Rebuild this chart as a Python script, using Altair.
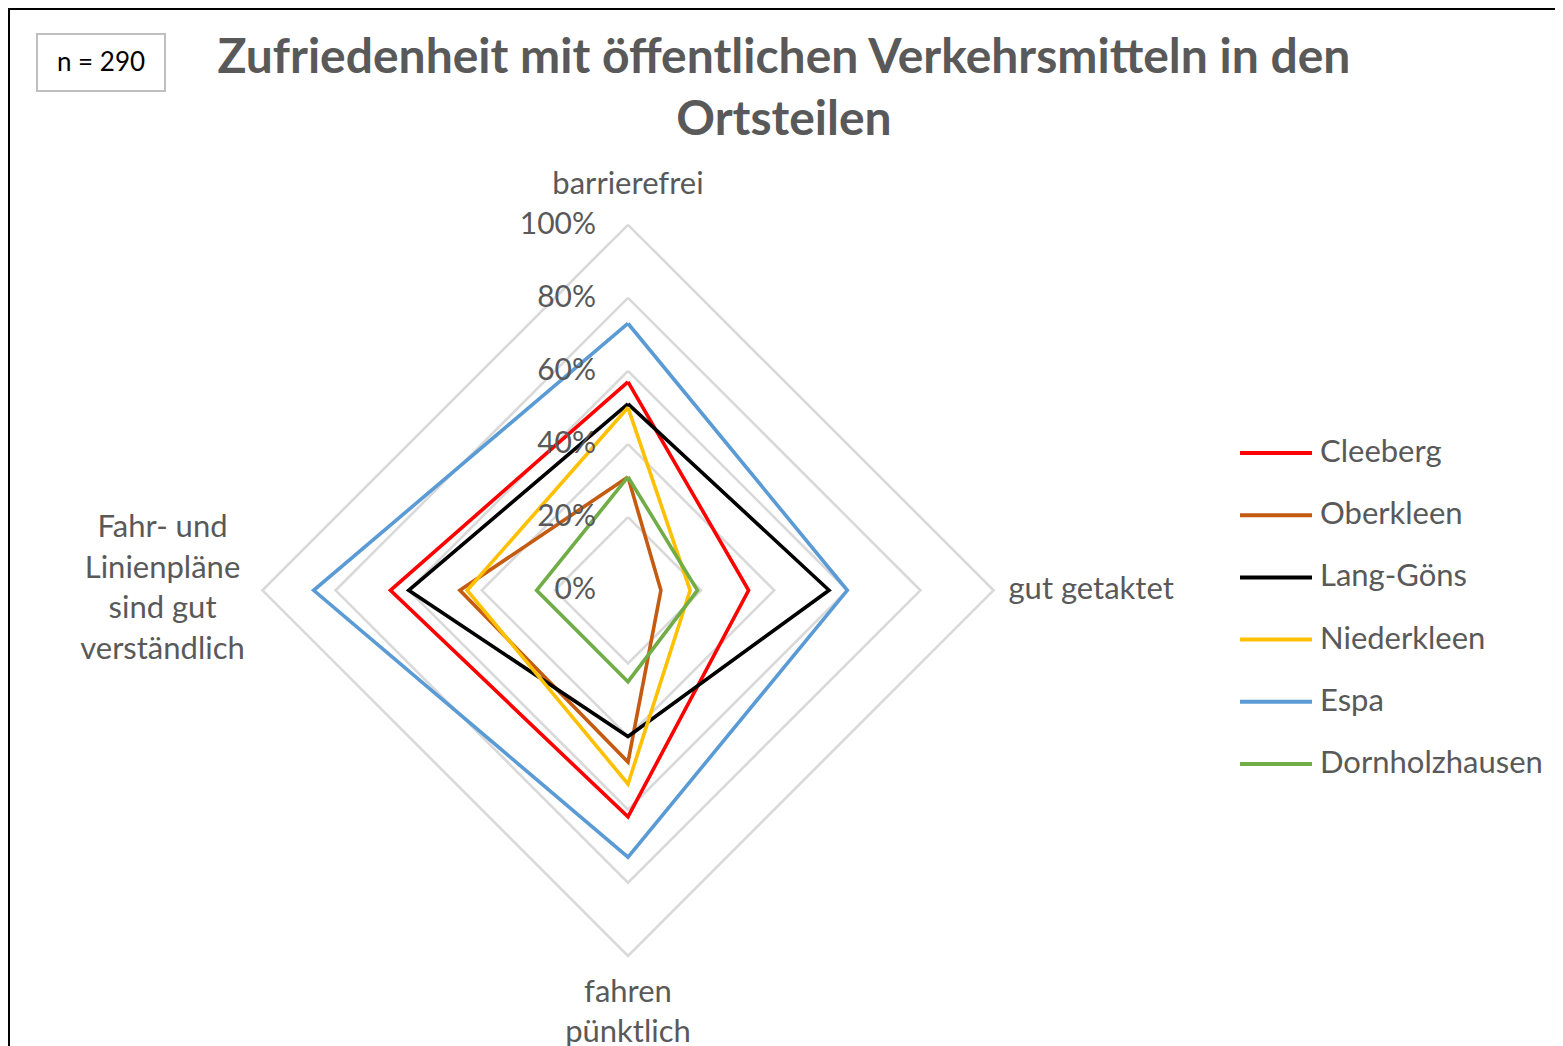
import altair as alt
import pandas as pd

# ---------------- data ----------------
CATEGORIES = ["barrierefrei", "gut getaktet", "fahren pünktlich",
              "Fahr- und Linienpläne sind gut verständlich"]
CATEGORY_LABELS = ["barrierefrei", "gut getaktet", "fahren\npünktlich",
                   "Fahr- und\nLinienpläne\nsind gut\nverständlich"]
SERIES = ["Cleeberg", "Oberkleen", "Lang-Göns", "Niederkleen", "Espa", "Dornholzhausen"]
CLEEBERG = [57, 33, 62, 65]
OBERKLEEN = [31, 9, 47, 46]
LANG_GOENS = [51, 55, 40, 60]
NIEDERKLEEN = [50, 17, 53, 44]
ESPA = [73, 60, 73, 86]
DORNHOLZHAUSEN = [31, 19, 25, 25]
SERIES_VALUES = [CLEEBERG, OBERKLEEN, LANG_GOENS, NIEDERKLEEN, ESPA, DORNHOLZHAUSEN]
COLORS = ["#FF0000", "#C55A11", "#000000", "#FFC000", "#5B9BD5", "#70AD47"]
GRID_LEVELS = [20, 40, 60, 80, 100]
TICK_LEVELS = [0, 20, 40, 60, 80, 100]
TICK_LABELS = ["0%", "20%", "40%", "60%", "80%", "100%"]
TITLE = "Zufriedenheit mit öffentlichen Verkehrsmitteln in den\nOrtsteilen"
N_LABEL = "n = 290"

# ---------------- layout ----------------
W, H = 1547, 1038
CX, CY = 620, 582.3      # centre of the radar in chart pixels
PX = 3.655               # pixels per percent
XS = alt.Scale(domain=[-CX / PX, (W - CX) / PX], nice=False, zero=False)
YS = alt.Scale(domain=[-(H - CY) / PX, CY / PX], nice=False, zero=False)
FONT = "Lato"
GREY = "#595959"

n_cat = len(CATEGORIES)

# long table of series polygons (closed)
rows = []
for s, vals in zip(SERIES, SERIES_VALUES):
    for k in range(n_cat + 1):
        rows.append({"series": s, "k": k % n_cat, "ord": k, "v": vals[k % n_cat]})
df_series = pd.DataFrame(rows)

grid_rows = []
for lv in GRID_LEVELS:
    for k in range(n_cat + 1):
        grid_rows.append({"level": lv, "k": k % n_cat, "ord": k, "v": lv})
df_grid = pd.DataFrame(grid_rows)

df_ticks = pd.DataFrame({"v": TICK_LEVELS, "label": TICK_LABELS, "k": [0] * len(TICK_LEVELS)})
df_cats = pd.DataFrame({"label": CATEGORY_LABELS, "k": list(range(n_cat)), "v": [100] * n_cat})
df_leg = pd.DataFrame({"series": SERIES, "color": COLORS})
df_one = pd.DataFrame({"t": [N_LABEL], "title": [TITLE]})


def polar(ch):
    return ch.transform_calculate(
        px="datum.v*sin(datum.k*PI/2)",
        py="datum.v*cos(datum.k*PI/2)",
    )


XE = alt.X("px:Q", scale=XS, axis=None)
YE = alt.Y("py:Q", scale=YS, axis=None)

layers = []

# grid rings
layers.append(
    polar(alt.Chart(df_grid)).mark_line(color="#D9D9D9", strokeWidth=2.6, strokeJoin="miter").encode(
        x=XE, y=YE, detail="level:N", order="ord:Q"
    )
)

# series lines, drawn in order (last on top)
for s, c in zip(SERIES, COLORS):
    layers.append(
        polar(alt.Chart(df_series).transform_filter(alt.datum.series == s))
        .mark_line(color=c, strokeWidth=3.6, strokeJoin="miter")
        .encode(x=XE, y=YE, order="ord:Q")
    )

# percent tick labels
layers.append(
    polar(alt.Chart(df_ticks)).mark_text(
        align="right", baseline="middle", dx=-32, font=FONT, fontSize=30, color=GREY
    ).encode(x=XE, y=YE, text="label:N")
)

# category labels (multi-line text: y is the first line)
cat_styles = [
    dict(align="center", baseline="middle", dx=0, dy=-40),
    dict(align="left", baseline="middle", dx=15, dy=0),
    dict(align="center", baseline="middle", dx=0, dy=37),
    dict(align="center", baseline="middle", dx=-100, dy=-62),
]
for k, st in enumerate(cat_styles):
    layers.append(
        polar(alt.Chart(df_cats).transform_filter(alt.datum.k == k)).mark_text(
            font=FONT, fontSize=31, color=GREY, lineBreak="\n", lineHeight=40.5, **st
        ).encode(x=XE, y=YE, text="label:N")
    )

# legend (manual)
LEG_Y = alt.Y("series:N", sort=SERIES, axis=None,
              scale=alt.Scale(type="point", range=[445, 756], padding=0))
layers.append(
    alt.Chart(df_leg).mark_rule(strokeWidth=4).encode(
        x=alt.value(1232), x2=alt.value(1304), y=LEG_Y,
        color=alt.Color("series:N", scale=alt.Scale(domain=SERIES, range=COLORS), legend=None),
    )
)
layers.append(
    alt.Chart(df_leg).mark_text(align="left", baseline="middle", font=FONT, fontSize=31, color=GREY).encode(
        x=alt.value(1312), y=LEG_Y, text="series:N"
    )
)

# title (y is the first line's middle)
layers.append(
    alt.Chart(df_one).mark_text(
        align="center", baseline="middle", font=FONT, fontSize=48, fontWeight="bold",
        color=GREY, lineBreak="\n", lineHeight=62
    ).encode(x=alt.value(776), y=alt.value(51), text="title:N")
)

# n box
layers.append(
    alt.Chart(df_one).mark_rect(fill="white", stroke="#BFBFBF", strokeWidth=2).encode(
        x=alt.value(29), x2=alt.value(157), y=alt.value(26), y2=alt.value(83)
    )
)
layers.append(
    alt.Chart(df_one).mark_text(align="center", baseline="middle", font=FONT, fontSize=26, color="black").encode(
        x=alt.value(93), y=alt.value(55), text="t:N"
    )
)

# outer frame (top and left edges)
layers.append(
    alt.Chart(df_one).mark_rule(color="black", strokeWidth=2).encode(
        x=alt.value(0), x2=alt.value(W), y=alt.value(1)
    )
)
layers.append(
    alt.Chart(df_one).mark_rule(color="black", strokeWidth=2).encode(
        x=alt.value(1), y=alt.value(0), y2=alt.value(H)
    )
)

chart = (
    alt.layer(*layers)
    .resolve_scale(y="independent", x="independent")
    .properties(width=W, height=H, autosize=alt.AutoSizeParams(type="none"), padding=0,
                background="white")
    .configure_view(stroke=None)
)

chart.save("out.html", embed_options={"renderer": "svg", "actions": False})
